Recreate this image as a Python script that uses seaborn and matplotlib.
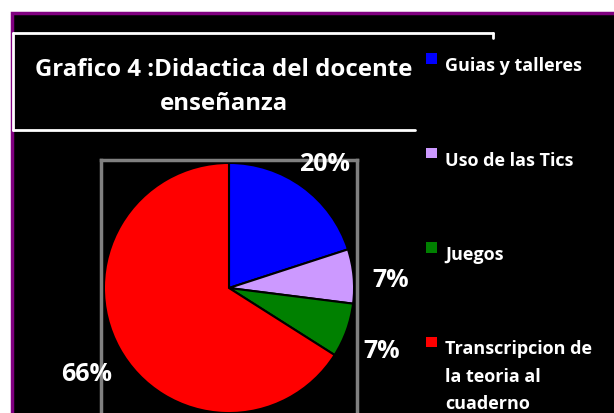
import matplotlib
matplotlib.use("Agg")
import matplotlib.pyplot as plt
import seaborn as sns
from matplotlib.patches import Rectangle
from matplotlib.lines import Line2D
from matplotlib.transforms import offset_copy

# chart data
categories = ["Guias y talleres", "Uso de las Tics", "Juegos",
              "Transcripcion de\nla teoria al\ncuaderno"]
percentages = [20, 7, 7, 66]
slice_colors = ["#0000FF", "#CC99FF", "#008000", "#FF0000"]
title_text = "Grafico 4 :Didactica del docente\nenseñanza"

sns.set_theme(style="dark")
plt.rcParams['font.family'] = ['Open Sans', 'DejaVu Sans']
plt.rcParams['font.weight'] = 'bold'

W, H = 614, 413
fig = plt.figure(figsize=(W / 100, H / 100), dpi=100, facecolor="white")


def fx(px):
    return px / W


def fy(py):
    return 1 - py / H


# black chart area with purple border
fig.add_artist(Rectangle((fx(12), fy(H + 5)), fx(W + 10), fy(13) - fy(H + 5),
                         transform=fig.transFigure, facecolor="black",
                         edgecolor="#800080", linewidth=2.5, zorder=0))

# title box lines
for xs, ys in [([13, 493], [32.5, 32.5]), ([493, 493], [32.5, 38]),
               ([13, 415], [130, 130]), ([13, 13], [32.5, 130])]:
    fig.add_artist(Line2D([fx(x) for x in xs], [fy(y) for y in ys],
                          transform=fig.transFigure, color="white", linewidth=2))

fig.text(fx(223.5), fy(87), title_text, ha="center", va="center", color="white",
         fontsize=17.3, fontweight="bold", linespacing=1.6)

# pie axes
ax = fig.add_axes([fx(101), fy(416), fx(256), fy(160) - fy(416)])
ax.set_facecolor("black")
wedges, _, autotexts = ax.pie(
    percentages, colors=slice_colors, startangle=90, counterclock=False,
    radius=0.977, autopct="%.0f%%", pctdistance=1.3,
    wedgeprops=dict(edgecolor="black", linewidth=1.5),
    textprops=dict(color="white", fontsize=18, fontweight="bold"))
for t in autotexts:
    t.set_transform(offset_copy(ax.transData, fig=fig, x=0, y=-8, units="dots"))
ax.set_xlim(-1, 1)
ax.set_ylim(-1, 1)
ax.set_aspect("auto")
ax.set_frame_on(True)
for sp in ax.spines.values():
    sp.set_visible(True)
    sp.set_color("#808080")
    sp.set_linewidth(2.5)
ax.set_xticks([])
ax.set_yticks([])

# legend: square swatch beside the first line of each label
step = 94.5
for i, (cat, col) in enumerate(zip(categories, slice_colors)):
    fig.add_artist(Rectangle((fx(426), fy(63.5 + i * step)), fx(11), fy(53) - fy(63.5),
                             transform=fig.transFigure, facecolor=col,
                             edgecolor="none"))
    fig.text(fx(445), fy(57 + i * step), cat, ha="left", va="top",
             color="white", fontsize=13, fontweight="bold", linespacing=1.65)

fig.savefig("out.png", dpi=100, facecolor=fig.get_facecolor())
